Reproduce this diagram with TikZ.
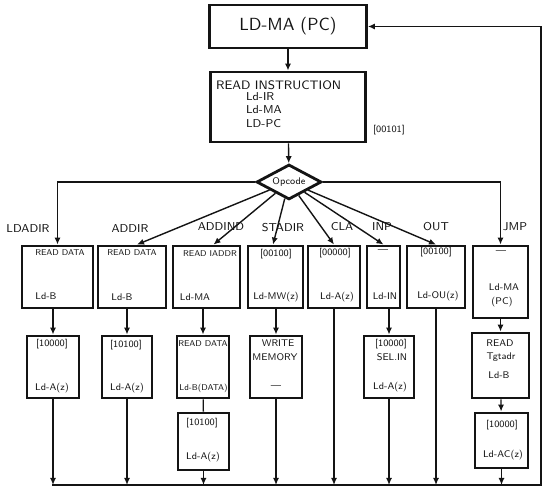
\documentclass[tikz,border=0pt]{standalone}
\usepackage{tikz}
\usetikzlibrary{positioning, shapes.geometric, arrows.meta, calc}
\usepackage{xcolor}
\definecolor{inkblack}{HTML}{141414}

\begin{document}
\begin{tikzpicture}[every node/.style={text=inkblack, font=\sffamily\fontsize{5.5}{6.5}\selectfont, inner sep=1pt},
    box/.style={draw=inkblack, line width=1.6pt, inner sep=0pt},
    wire/.style={draw=inkblack, line width=0.8pt},
    arr/.style={wire, -{Latex[length=4pt,width=3.5pt]}},
    small/.style={font=\sffamily\fontsize{4.8}{5.8}\selectfont},
    lbl/.style={font=\sffamily\fontsize{6.5}{7.5}\selectfont}]
        \useasboundingbox (0,0) rectangle (11,10);
        % fetch
        \node[box, minimum width=3.14cm, minimum height=0.86cm, font=\sffamily\fontsize{10}{12}\selectfont] (fetch) at (5.76,9.47) {LD-MA (PC)};
        \node[box, minimum width=3.1cm, minimum height=1.4cm] (readi) at (5.76,7.86) {};
        \node[anchor=west, font=\sffamily\fontsize{7}{8}\selectfont] (readi-t) at (4.28,8.3) {READ INSTRUCTION};
        \node[anchor=west, font=\sffamily\fontsize{6.5}{7.5}\selectfont] (readi-a) at (4.88,8.06) {Ld-IR};
        \node[anchor=west, font=\sffamily\fontsize{6.5}{7.5}\selectfont] (readi-b) at (4.88,7.8) {Ld-MA};
        \node[anchor=west, font=\sffamily\fontsize{6.5}{7.5}\selectfont] (readi-c) at (4.88,7.52) {LD-PC};
        \node (readi-op) at (7.78,7.4) {[00101]};
        \node[draw=inkblack, diamond, aspect=2, line width=1.6pt, minimum width=1.3cm, minimum height=0.7cm, inner sep=0pt] (opc) at (5.78,6.36) {Opcode};

        % first row
        \node[box, minimum width=1.42cm, minimum height=1.24cm] (ldadir) at (1.15,4.46) {};
        \node[box, minimum width=1.36cm, minimum height=1.24cm] (addir) at (2.64,4.46) {};
        \node[box, minimum width=1.34cm, minimum height=1.24cm] (addind) at (4.13,4.46) {};
        \node[box, minimum width=1.1cm, minimum height=1.24cm] (stadir) at (5.51,4.46) {};
        \node[box, minimum width=1.04cm, minimum height=1.24cm] (cla) at (6.68,4.46) {};
        \node[box, minimum width=0.66cm, minimum height=1.24cm] (inp) at (7.67,4.46) {};
        \node[box, minimum width=1.16cm, minimum height=1.24cm] (outp) at (8.72,4.46) {};
        \node[box, minimum width=1.1cm, minimum height=1.44cm] (jmp) at (10.01,4.36) {};
        \node[small] (ldadir-t) at (1.2,4.94) {READ DATA};
        \node (ldadir-b) at (0.92,4.08) {Ld-B};
        \node[small] (addir-t) at (2.64,4.94) {READ DATA};
        \node (addir-b) at (2.44,4.06) {Ld-B};
        \node[small] (addind-t) at (4.2,4.92) {READ IADDR};
        \node (addind-b) at (3.9,4.06) {Ld-MA};
        \node (stadir-t) at (5.52,4.92) {[00100]};
        \node (stadir-b) at (5.52,4.06) {Ld-MW(z)};
        \node (cla-t) at (6.7,4.94) {[00000]};
        \node (cla-b) at (6.74,4.06) {Ld-A(z)};
        \node (inp-t) at (7.66,4.98) {---};
        \node (inp-b) at (7.7,4.08) {Ld-IN};
        \node (outp-t) at (8.72,4.96) {[00100]};
        \node (outp-b) at (8.76,4.08) {Ld-OU(z)};
        \node (jmp-t) at (10.02,4.96) {---};
        \node (jmp-a) at (10.08,4.26) {Ld-MA};
        \node (jmp-b) at (10.04,3.96) {(PC)};

        % second and third rows
        \node[box, minimum width=1.04cm, minimum height=1.24cm] (ldadirA) at (1.06,2.66) {};
        \node[box, minimum width=1.0cm, minimum height=1.24cm] (addirA) at (2.54,2.66) {};
        \node[box, minimum width=1.04cm, minimum height=1.24cm] (addindA) at (4.06,2.66) {};
        \node[box, minimum width=1.04cm, minimum height=1.24cm] (stadirA) at (5.52,2.66) {};
        \node[box, minimum width=1.0cm, minimum height=1.24cm] (inpA) at (7.78,2.66) {};
        \node[box, minimum width=1.14cm, minimum height=1.3cm] (jmpA) at (10.01,2.69) {};
        \node[box, minimum width=1.02cm, minimum height=1.14cm] (addindB) at (4.07,1.17) {};
        \node[box, minimum width=1.06cm, minimum height=1.1cm] (jmpB) at (10.03,1.19) {};
        \node (ldadirA-t) at (1.04,3.12) {[10000]};
        \node (ldadirA-b) at (1.04,2.24) {Ld-A(z)};
        \node (addirA-t) at (2.52,3.1) {[10100]};
        \node (addirA-b) at (2.54,2.24) {Ld-A(z)};
        \node[small] (addindA-t) at (4.06,3.12) {READ DATA};
        \node[small] (addindA-b) at (4.07,2.24) {Ld-B(DATA)};
        \node (stadirA-t) at (5.56,3.14) {WRITE};
        \node (stadirA-m) at (5.5,2.86) {MEMORY};
        \node (stadirA-b) at (5.52,2.26) {---};
        \node (inpA-t) at (7.82,3.12) {[10000]};
        \node (inpA-m) at (7.84,2.86) {SEL.IN};
        \node (inpA-b) at (7.8,2.26) {Ld-A(z)};
        \node (jmpA-t) at (10.0,3.14) {READ};
        \node (jmpA-m) at (10.02,2.86) {Tgtadr};
        \node (jmpA-b) at (9.98,2.5) {Ld-B};
        \node (addindB-t) at (4.04,1.54) {[10100]};
        \node (addindB-b) at (4.06,0.86) {Ld-A(z)};
        \node (jmpB-t) at (10.04,1.5) {[10000]};
        \node (jmpB-b) at (10.06,0.9) {Ld-AC(z)};

        % opcode labels
        \node[lbl] (l-ldadir) at (0.56,5.42) {LDADIR};
        \node[lbl] (l-addir) at (2.6,5.42) {ADDIR};
        \node[lbl] (l-addind) at (4.42,5.46) {ADDIND};
        \node[lbl] (l-stadir) at (5.66,5.44) {STADIR};
        \node[lbl] (l-cla) at (6.84,5.46) {CLA};
        \node[lbl] (l-inp) at (7.64,5.46) {INP};
        \node[lbl] (l-outp) at (8.72,5.46) {OUT};
        \node[lbl] (l-jmp) at (10.3,5.46) {JMP};

        % connectors
        \draw[arr] (fetch) -- (readi);
        \draw[arr] (readi) -- (opc);
        \draw[arr] (opc.west) -| (ldadir.north);
        \draw[arr] (opc) -- ([xshift=0.1cm]addir.north);
        \draw[arr] (opc) -- ([xshift=0.14cm]addind.north);
        \draw[arr] (opc) -- ([xshift=-0.05cm]stadir.north);
        \draw[arr] (opc) -- (cla.north);
        \draw[arr] (opc) -- (inp.north);
        \draw[arr] (opc) -- (outp.north);
        \draw[arr] (opc.east) -| (jmp.north);
        \draw[arr] (ldadirA.north |- ldadir.south) -- (ldadirA.north);
        \draw[arr] (addirA.north |- addir.south) -- (addirA.north);
        \draw[arr] (addindA.north |- addind.south) -- (addindA.north);
        \draw[arr] (stadirA.north |- stadir.south) -- (stadirA.north);
        \draw[arr] (inpA.north |- inp.south) -- (inpA.north);
        \draw[arr] (jmpA.north |- jmp.south) -- (jmpA.north);
        \draw[wire] (addindA) -- (addindB);
        \draw[arr] (jmpA) -- (jmpB);

        % common bus back to fetch
        \coordinate (busL) at (1.04,0.3);
        \coordinate (busR) at (10.82,0.3);
        \draw[arr] (busL) -- (busR) |- (fetch.east);
        \draw[arr] (ldadirA) -- (ldadirA |- busL);
        \draw[arr] (addirA) -- (addirA |- busL);
        \draw[arr] (addindB) -- (addindB |- busL);
        \draw[arr] (stadirA) -- (stadirA |- busL);
        \draw[arr] (cla) -- (cla |- busL);
        \draw[arr] (inpA) -- (inpA |- busL);
        \draw[arr] (outp) -- (outp |- busL);
        \draw[arr] (jmpB) -- (jmpB |- busL);
      \end{tikzpicture}
\end{document}
